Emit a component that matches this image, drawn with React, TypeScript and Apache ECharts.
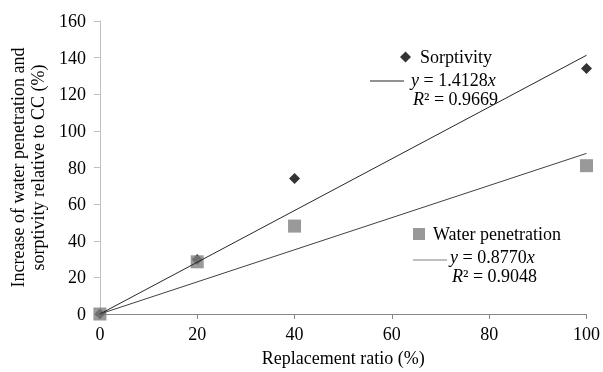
import React, { useEffect, useRef } from "react";
import * as echarts from "echarts";

const replacementRatio = [0, 20, 40, 100];
const sorptivity = [0, 29.7, 74, 134];
const waterPenetration = [0, 28.5, 48, 81];
const sorptivitySlope = 1.4128;
const waterSlope = 0.877;
const fitRange = [0, 100];
const yTicks = { min: 0, max: 160, interval: 20 };
const xTicks = { min: 0, max: 100, interval: 20 };

const FONT = "Liberation Serif";
const FS = 18;

export default function App() {
  const ref = useRef<HTMLDivElement>(null);
  useEffect(() => {
    const chart = echarts.init(ref.current!, null, { renderer: "svg" });
    const rich = {
      i: { fontStyle: "italic", fontFamily: FONT, fontSize: FS, fill: "#000" },
      n: { fontFamily: FONT, fontSize: FS, fill: "#000" },
    };
    chart.setOption({
      animation: false,
      textStyle: { fontFamily: FONT },
      grid: { left: 97, right: 13, top: 21, bottom: 56 },
      xAxis: {
        type: "value",
        min: xTicks.min,
        max: xTicks.max,
        interval: xTicks.interval,
        name: "Replacement ratio (%)",
        nameLocation: "middle",
        nameGap: 35,
        nameTextStyle: { fontFamily: FONT, fontSize: FS, color: "#000" },
        axisLine: { lineStyle: { color: "#868686", width: 1 } },
        axisTick: { show: true, length: 5, lineStyle: { color: "#868686" } },
        axisLabel: { fontFamily: FONT, fontSize: FS, color: "#000", margin: 11 },
        splitLine: { show: false },
      },
      yAxis: {
        type: "value",
        min: yTicks.min,
        max: yTicks.max,
        interval: yTicks.interval,
        name: "Increase of water penetration and\nsorptivity relative to CC (%)",
        nameLocation: "middle",
        nameGap: 48,
        nameTextStyle: { fontFamily: FONT, fontSize: FS, color: "#000", lineHeight: 20 },
        axisLine: { show: true, lineStyle: { color: "#bfbfbf", width: 1 } },
        axisTick: { show: true, length: 6, lineStyle: { color: "#bfbfbf" } },
        axisLabel: { fontFamily: FONT, fontSize: FS, color: "#000", margin: 14 },
        splitLine: { show: false },
      },
      legend: [
        {
          data: [{ name: "Sorptivity", icon: "diamond" }],
          left: 400,
          top: 48,
          padding: 0,
          itemWidth: 11,
          itemHeight: 11,
          itemGap: 0,
          textStyle: { fontFamily: FONT, fontSize: FS, lineHeight: 18, color: "#000", padding: [0, 0, 0, 4] },
        },
        {
          data: [{ name: "Water penetration", icon: "rect" }],
          left: 413,
          top: 225,
          padding: 0,
          itemWidth: 12,
          itemHeight: 12,
          itemGap: 0,
          textStyle: { fontFamily: FONT, fontSize: FS, lineHeight: 18, color: "#000", padding: [0, 0, 0, 3] },
        },
      ],
      graphic: [
        { type: "line", shape: { x1: 370, y1: 81, x2: 404, y2: 81 }, style: { stroke: "#262626", lineWidth: 1.2 } },
        { type: "text", x: 411, y: 80, style: { text: "{i|y}{n| = 1.4128}{i|x}", rich, verticalAlign: "middle" } },
        { type: "text", x: 413, y: 99, style: { text: "{i|R}{n|² = 0.9669}", rich, verticalAlign: "middle" } },
        { type: "line", shape: { x1: 413, y1: 260, x2: 447, y2: 260 }, style: { stroke: "#7f7f7f", lineWidth: 1 } },
        { type: "text", x: 450, y: 257, style: { text: "{i|y}{n| = 0.8770}{i|x}", rich, verticalAlign: "middle" } },
        { type: "text", x: 452, y: 276, style: { text: "{i|R}{n|² = 0.9048}", rich, verticalAlign: "middle" } },
      ],
      series: [
        {
          name: "Sorptivity",
          type: "scatter",
          symbol: "diamond",
          symbolSize: 11,
          itemStyle: { color: "#000" },
          data: replacementRatio.map((x, i) => [x, sorptivity[i]]),
          z: 2,
        },
        {
          name: "Water penetration",
          type: "scatter",
          symbol: "rect",
          symbolSize: 13,
          itemStyle: { color: "#7f7f7f" },
          data: replacementRatio.map((x, i) => [x, waterPenetration[i]]),
          z: 3,
        },
        {
          name: "Sorptivity fit",
          type: "line",
          symbol: "none",
          lineStyle: { color: "#262626", width: 1 },
          data: fitRange.map((x) => [x, sorptivitySlope * x]),
          z: 4,
        },
        {
          name: "Water fit",
          type: "line",
          symbol: "none",
          lineStyle: { color: "#404040", width: 1 },
          data: fitRange.map((x) => [x, waterSlope * x]),
          z: 4,
        },
      ],
    });
    return () => chart.dispose();
  }, []);
  return <div ref={ref} style={{ width: 603, height: 372, position: "fixed", left: 0, top: 0 }} />;
}
